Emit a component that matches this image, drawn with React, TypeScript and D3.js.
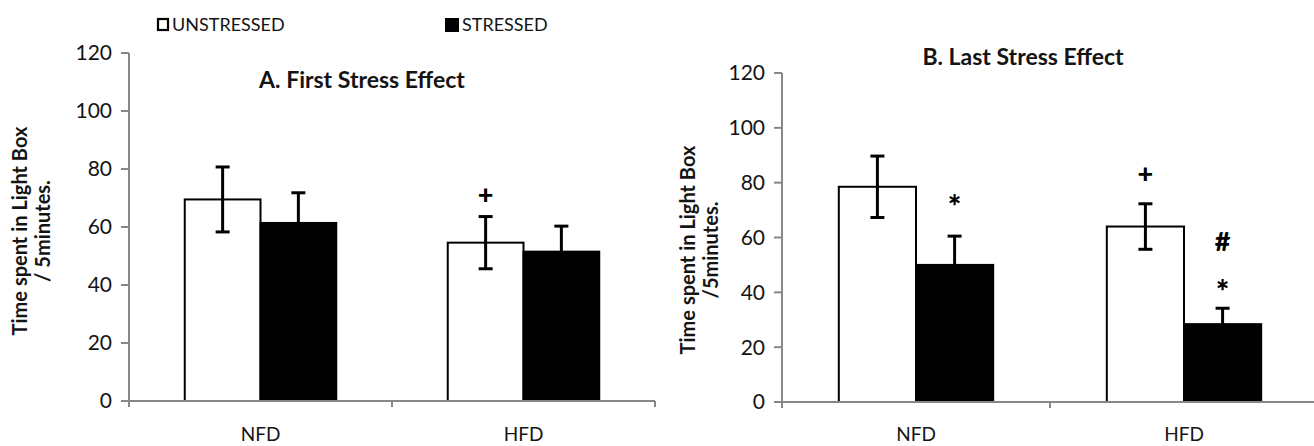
import React from "react";
import * as d3 from "d3";

const categories = ["NFD", "HFD"];
const series = ["UNSTRESSED", "STRESSED"];
const yTicks = [0, 20, 40, 60, 80, 100, 120];

// Panel A: First Stress Effect
const firstMeans = [
  [69.5, 61.4],
  [54.6, 51.5],
];
const firstErrors = [
  [11.2, 10.4],
  [9.0, 8.8],
];
// Panel B: Last Stress Effect
const lastMeans = [
  [78.5, 50.0],
  [64.0, 28.4],
];
const lastErrors = [
  [11.2, 10.5],
  [8.3, 5.8],
];

// significance marks: [category index, series index, symbol, y-level]
const firstMarks: [number, number, string, number][] = [[1, 0, "+", 71.4]];
const lastMarks: [number, number, string, number][] = [
  [0, 1, "*", 74.3],
  [1, 0, "+", 83.6],
  [1, 1, "#", 58.5],
  [1, 1, "*", 43.3],
];

const FONT = "Lato, 'Open Sans', sans-serif";
const AXIS = "#878787";
const TXT = "#141414";

type PanelProps = {
  title: string;
  titleX: number;
  titleY: number;
  means: number[][];
  errors: number[][];
  marks: [number, number, string, number][];
  x0: number;
  x1: number;
  y0: number;
  y1: number;
  labelX1: number;
  labelX2: number;
  labelY: number;
  line2: string;
};

function Panel(p: PanelProps) {
  const x = d3.scaleBand<string>().domain(categories).range([p.x0, p.x1]).paddingInner(0).paddingOuter(0);
  const y = d3.scaleLinear().domain([0, 120]).range([p.y0, p.y1]);
  const bw = x.bandwidth() * 0.288;
  const sub = d3.scaleBand<string>().domain(series).range([-bw, bw]);
  const cx = (c: string) => (x(c) as number) + x.bandwidth() / 2;
  const xTickPos = [p.x0, p.x0 + x.bandwidth(), p.x1];
  return (
    <g>
      <text x={p.titleX} y={p.titleY} textAnchor="middle" fontFamily={FONT} fontWeight="bold" fontSize={23} fill={TXT}>
        {p.title}
      </text>
      {/* bars */}
      {categories.map((c, ci) =>
        series.map((s, si) => {
          const bx = cx(c) + (sub(s) as number);
          const v = p.means[ci][si];
          return (
            <rect
              key={c + s}
              x={bx}
              y={y(v)}
              width={sub.bandwidth()}
              height={y(0) - y(v)}
              fill={si === 0 ? "#fff" : "#000"}
              stroke="#000"
              strokeWidth={2}
            />
          );
        })
      )}
      {/* error bars */}
      {categories.map((c, ci) =>
        series.map((s, si) => {
          const ex = cx(c) + (sub(s) as number) + sub.bandwidth() / 2;
          const v = p.means[ci][si];
          const e = p.errors[ci][si];
          const capW = 14;
          return (
            <g key={"e" + c + s} stroke="#000" strokeWidth={3}>
              <line x1={ex} x2={ex} y1={y(v + e)} y2={y(v - e)} />
              <line x1={ex - capW / 2} x2={ex + capW / 2} y1={y(v + e)} y2={y(v + e)} />
              <line x1={ex - capW / 2} x2={ex + capW / 2} y1={y(v - e)} y2={y(v - e)} />
            </g>
          );
        })
      )}
      {/* marks */}
      {p.marks.map(([ci, si, sym, lvl], i) => {
        const ex = cx(categories[ci]) + (sub(series[si]) as number) + sub.bandwidth() / 2;
        return (
          <text
            key={"m" + i}
            x={ex}
            y={y(lvl)}
            dy={sym === "*" ? "0.62em" : "0.36em"}
            textAnchor="middle"
            fontFamily={FONT}
            fontWeight="900"
            fontSize={sym === "*" ? 32 : 27}
            fill="#000"
          >
            {sym}
          </text>
        );
      })}
      {/* y axis */}
      <line x1={p.x0} x2={p.x0} y1={y(120)} y2={y(0) + 6} stroke={AXIS} strokeWidth={2} />
      {yTicks.map((t) => (
        <g key={"yt" + t}>
          <line x1={p.x0 - 8} x2={p.x0} y1={y(t)} y2={y(t)} stroke={AXIS} strokeWidth={2} />
          <text x={p.x0 - 17} y={y(t)} dy="0.35em" textAnchor="end" fontFamily={FONT} fontSize={21} fill={TXT}>
            {t}
          </text>
        </g>
      ))}
      {/* x axis */}
      <line x1={p.x0 - 8} x2={p.x1} y1={y(0)} y2={y(0)} stroke={AXIS} strokeWidth={2} />
      {xTickPos.map((t, i) => (
        <line key={"xt" + i} x1={t} x2={t} y1={y(0)} y2={y(0) + 6} stroke={AXIS} strokeWidth={2} />
      ))}
      {categories.map((c) => (
        <text key={"xl" + c} x={cx(c)} y={434} dy="0.35em" textAnchor="middle" fontFamily={FONT} fontSize={19} fill={TXT}>
          {c}
        </text>
      ))}
      {/* y label */}
      <text
        transform={`translate(${p.labelX1},${p.labelY}) rotate(-90)`}
        textAnchor="middle"
        dy="0.35em"
        fontFamily={FONT}
        fontWeight="bold"
        fontSize={20}
        fill={TXT}
      >
        Time spent in Light Box
      </text>
      <text
        transform={`translate(${p.labelX2},${p.labelY}) rotate(-90)`}
        textAnchor="middle"
        dy="0.35em"
        fontFamily={FONT}
        fontWeight="bold"
        fontSize={20}
        fill={TXT}
      >
        {p.line2}
      </text>
    </g>
  );
}

export default function App() {
  return (
    <svg width={1314} height={446} style={{ position: "absolute", left: 0, top: 0, background: "#fff" }}>
      <rect width={1314} height={446} fill="#fff" />
      {/* legend */}
      <rect x={158} y={19} width={10} height={11} fill="#fff" stroke="#000" strokeWidth={2.2} />
      <text x={172} y={25} dy="0.35em" fontFamily={FONT} fontSize={18} fill={TXT}>
        {series[0]}
      </text>
      <rect x={445} y={18} width={14} height={14} fill="#000" />
      <text x={462} y={25} dy="0.35em" fontFamily={FONT} fontSize={18} fill={TXT}>
        {series[1]}
      </text>
      <Panel
        title="A. First Stress Effect"
        titleX={362}
        titleY={88}
        means={firstMeans}
        errors={firstErrors}
        marks={firstMarks}
        x0={129}
        x1={655}
        y0={401}
        y1={53}
        labelX1={20}
        labelX2={43}
        labelY={231}
        line2="/ 5minutes."
      />
      <Panel
        title="B. Last Stress Effect"
        titleX={1023}
        titleY={65}
        means={lastMeans}
        errors={lastErrors}
        marks={lastMarks}
        x0={782}
        x1={1318}
        y0={402}
        y1={73}
        labelX1={688}
        labelX2={711}
        labelY={250}
        line2="/5minutes."
      />
    </svg>
  );
}
